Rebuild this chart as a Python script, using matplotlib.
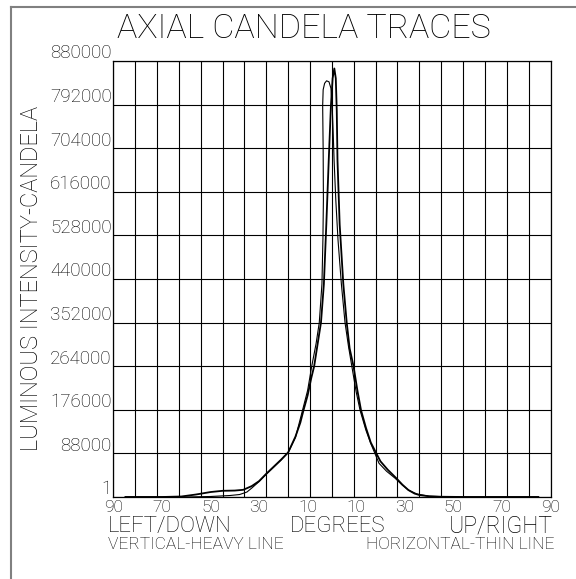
import matplotlib.pyplot as plt
from matplotlib.lines import Line2D
from matplotlib.transforms import offset_copy

# vertical trace (heavy line): degrees, left/down negative
heavy_deg = [-85, -70, -62, -56, -50, -45, -40, -36.5, -33, -30,
             -27, -24, -21, -18, -15, -13, -11.7, -10, -8.5, -7.3,
             -6, -4.5, -3.3, -2.3, -1.3, -0.4, 0.3, 1.0, 1.6, 2.0,
             2.3, 3.2, 4.7, 6.1, 7.3, 8.9, 10.5, 12.0, 14, 16,
             18.3, 20, 23, 26.5, 29, 31.5, 34, 36, 40, 45,
             55, 70, 85]
heavy_cd = [0, 0, 1000, 5000, 10000, 12500, 13000, 14500, 22000, 32000,
            47000, 61000, 75000, 90000, 122000, 150000, 175000, 205000, 240000, 264000,
            305000, 352000, 430000, 550000, 680000, 790000, 845000, 865000, 845000, 780000,
            680000, 550000, 430000, 352000, 300000, 264000, 215000, 175000, 140000, 110000,
            88000, 72000, 55000, 38000, 25000, 14000, 7000, 4000, 1500, 500,
            0, 0, 0]

# horizontal trace (thin line)
thin_deg = [-85, -60, -50, -42, -38, -35, -33, -30, -27, -24,
            -21, -18, -15, -12.1, -10, -8.3, -6.5, -5.2, -4.1, -3.7,
            -3.5, -3.6, -3.8, -3.6, -3.0, -2.2, -1.2, -0.4, 0.1, 0.5,
            0.9, 1.6, 2.5, 3.9, 5.4, 6.8, 8.2, 10, 11.6, 14,
            16, 17.7, 19.4, 22.5, 26, 29, 31.5, 35, 40, 50,
            70, 85]
thin_cd = [0, 0, 1000, 3000, 5000, 10000, 18000, 31000, 46000, 60000,
           74000, 90000, 120000, 175000, 215000, 264000, 310000, 352000, 430000, 520000,
           600000, 700000, 790000, 822000, 835000, 840000, 838000, 825000, 790000, 740000,
           680000, 600000, 520000, 430000, 352000, 305000, 264000, 212000, 175000, 135000,
           108000, 88000, 68000, 52000, 38000, 24000, 14000, 6000, 1500, 0,
           0, 0]

y_ticks = [0, 88000, 176000, 264000, 352000, 440000, 528000, 616000, 704000, 792000, 880000]
y_labels = ['1', '88000', '176000', '264000', '352000', '440000',
            '528000', '616000', '704000', '792000', '880000']
x_ticks = [-90, -70, -50, -30, -10, 10, 30, 50, 70, 90]
x_labels = ['90', '70', '50', '30', '10', '10', '30', '50', '70', '90']
x_grid = list(range(-90, 91, 9))

font = dict(fontfamily='Roboto', fontweight='light')
W, H = 576, 579

fig = plt.figure(figsize=(W / 100, H / 100), dpi=100)
ax = fig.add_axes([113.3 / W, 82 / H, 437.2 / W, 436 / H])

for x in x_grid:
    ax.axvline(x, color='black', lw=0.8, zorder=1)
for y in y_ticks:
    ax.axhline(y, color='black', lw=0.8, zorder=1)

ax.plot(heavy_deg, heavy_cd, color='black', lw=1.3, zorder=3)
ax.plot(thin_deg, thin_cd, color='black', lw=0.8, zorder=3)

ax.set_xlim(-90, 90)
ax.set_ylim(0, 880000)
ax.set_xticks(x_ticks, x_labels, fontsize=12.5, **font)
ax.set_yticks([])
ax.tick_params(axis='x', length=0, pad=2.5)
for s in ax.spines.values():
    s.set_linewidth(0.9)

trans = offset_copy(ax.get_yaxis_transform(), fig=fig, x=-1.5, y=2.5, units='dots')
for v, lab in zip(y_ticks, y_labels):
    ax.text(0, v, lab, transform=trans, ha='right', va='baseline',
            fontsize=13.5, **font)

fig.text(117 / W, 1 - 38 / H, 'AXIAL CANDELA TRACES', fontsize=24.5,
         ha='left', va='baseline', **font)
fig.text(32 / W, 1 - 278.5 / H, 'LUMINOUS INTENSITY-CANDELA', fontsize=17,
         rotation=90, ha='center', va='center', **font)

fig.text(108 / W, 1 - 532 / H, 'LEFT/DOWN', fontsize=16,
         ha='left', va='baseline', **font)
fig.text(338 / W, 1 - 532 / H, 'DEGREES', fontsize=16,
         ha='center', va='baseline', **font)
fig.text(553 / W, 1 - 532 / H, 'UP/RIGHT', fontsize=16.5,
         ha='right', va='baseline', **font)
fig.text(108 / W, 1 - 549 / H, 'VERTICAL-HEAVY LINE', fontsize=12.5,
         ha='left', va='baseline', **font)
fig.text(555 / W, 1 - 549 / H, 'HORIZONTAL-THIN LINE', fontsize=12.5,
         ha='right', va='baseline', **font)

# outer border (top and left edges only are visible)
fig.add_artist(Line2D([11 / W, 1], [1 - 7 / H, 1 - 7 / H], color='#808080', lw=1.5))
fig.add_artist(Line2D([11 / W, 11 / W], [0, 1 - 7 / H], color='#808080', lw=1.5))

fig.savefig('out.png', dpi=100)
